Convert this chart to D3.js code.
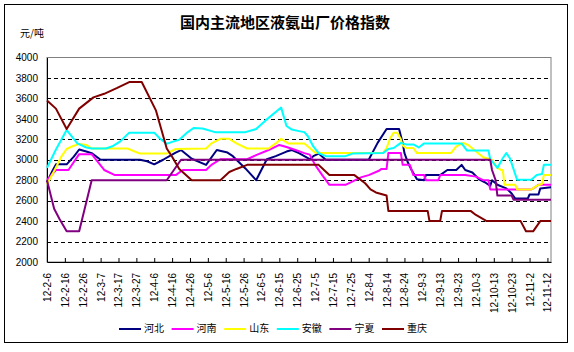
<!DOCTYPE html>
<html>
<head>
<meta charset="utf-8">
<script src="https://cdn.jsdelivr.net/npm/d3@7"></script>
<style>
  body { margin: 0; background: #fff; }
  svg text { font-family: "Liberation Sans", Arial, sans-serif; }
  .cjk { font-family: "Noto Sans CJK SC", sans-serif; }
</style>
</head>
<body>
<div id="chart"></div>
<script>
    // series values, [month-day of 2012, price]
    const hebei = [["02-06",2780],["02-09",2890],["02-11",2955],["02-17",2955],["02-21",3030],["02-24",3100],["02-28",3080],["03-02",3065],["03-07",3000],["03-29",3000],["04-02",2985],["04-06",2955],["04-11",3000],["04-15",3040],["04-18",3070],["04-21",3095],["04-27",3010],["05-05",2950],["05-11",3095],["05-17",3070],["05-20",3035],["05-27",2915],["06-02",2800],["06-08",3005],["06-13",3035],["06-19",3080],["06-22",3095],["06-26",3065],["06-29",3035],["07-02",3005],["07-04",3035],["07-07",3060],["07-11",3000],["08-04",3000],["08-09",3165],["08-14",3300],["08-21",3300],["08-23",3165],["08-24",3065],["08-26",2970],["08-28",2900],["08-31",2810],["09-04",2800],["09-05",2850],["09-13",2850],["09-17",2900],["09-22",2900],["09-25",2950],["09-27",2900],["10-01",2875],["10-05",2805],["10-08",2780],["10-11",2745],["10-12",2800],["10-15",2755],["10-20",2720],["10-23",2670],["10-25",2620],["11-01",2620],["11-02",2660],["11-07",2660],["11-08",2720],["11-14",2730]];
    const henan = [["02-06",2800],["02-11",2900],["02-18",2900],["02-24",3055],["03-02",3055],["03-09",2900],["03-15",2850],["04-18",2850],["04-22",2900],["05-05",2900],["05-08",2950],["05-13",3005],["05-28",3005],["06-02",3045],["06-09",3095],["06-15",3145],["06-19",3125],["06-24",3095],["06-29",3065],["07-02",3050],["07-05",2950],["07-09",2850],["07-13",2755],["07-22",2755],["07-31",2830],["08-04",2850],["08-10",2895],["08-11",2910],["08-14",2910],["08-15",3065],["08-22",3065],["08-23",2950],["08-27",2950],["08-29",2850],["09-04",2850],["09-05",2800],["09-12",2800],["09-13",2850],["09-27",2850],["10-03",2835],["10-07",2800],["10-10",2800],["10-11",2710],["11-03",2710],["11-05",2730],["11-07",2755],["11-14",2755]];
    const shandong = [["02-06",2760],["02-10",2890],["02-14",3030],["02-17",3105],["02-20",3130],["02-24",3155],["02-28",3145],["03-02",3110],["03-22",3110],["03-29",3060],["04-13",3060],["04-18",3105],["05-05",3110],["05-08",3160],["05-13",3205],["05-18",3205],["05-22",3160],["05-28",3110],["06-09",3110],["06-13",3160],["06-16",3205],["06-20",3160],["06-29",3160],["07-02",3115],["07-05",3070],["07-08",3065],["08-12",3065],["08-14",3115],["08-16",3210],["08-18",3265],["08-20",3265],["08-22",3200],["08-23",3140],["08-25",3115],["08-29",3115],["08-31",3065],["09-19",3065],["09-22",3130],["09-26",3165],["09-29",3140],["10-07",3025],["10-12",3000],["10-15",2920],["10-17",2900],["10-18",2900],["10-19",2755],["10-25",2755],["10-26",2710],["11-03",2710],["11-06",2745],["11-09",2765],["11-10",2850],["11-14",2850]];
    const anhui = [["02-06",2920],["02-11",3100],["02-17",3290],["02-23",3160],["02-28",3120],["03-02",3110],["03-10",3110],["03-14",3135],["03-18",3180],["03-23",3265],["04-06",3265],["04-09",3210],["04-13",3155],["04-16",3175],["04-20",3195],["04-24",3260],["04-28",3310],["05-03",3305],["05-10",3270],["05-27",3270],["06-02",3300],["06-07",3380],["06-16",3510],["06-19",3330],["06-22",3295],["06-26",3280],["06-29",3270],["07-01",3230],["07-04",3130],["07-07",3065],["07-11",3035],["07-22",3035],["07-26",3060],["08-12",3065],["08-15",3105],["08-18",3115],["08-22",3165],["08-25",3150],["08-29",3150],["09-01",3120],["09-04",3160],["09-25",3160],["09-28",3090],["10-10",3090],["10-11",3005],["10-15",2920],["10-18",3015],["10-20",3065],["10-22",3015],["10-26",2805],["11-03",2805],["11-06",2850],["11-09",2860],["11-10",2950],["11-14",2950]];
    const ningxia = [["02-06",2800],["02-10",2520],["02-13",2420],["02-17",2300],["02-24",2300],["03-02",2800],["04-13",2800],["04-21",3000],["10-11",3000],["10-12",2900],["10-14",2800],["10-15",2650],["10-23",2650],["10-24",2610],["11-14",2610]];
    const chongqing = [["02-06",3580],["02-11",3500],["02-17",3300],["02-24",3500],["03-03",3610],["03-09",3645],["03-16",3700],["03-23",3760],["03-30",3760],["04-07",3480],["04-13",3110],["04-16",3030],["04-20",2910],["04-27",2800],["05-13",2800],["05-18",2880],["05-22",2910],["05-28",2950],["07-07",2950],["07-10",2900],["07-13",2850],["07-27",2850],["08-02",2770],["08-05",2710],["08-08",2680],["08-14",2650],["08-15",2500],["09-06",2500],["09-07",2400],["09-13",2400],["09-14",2500],["09-30",2500],["10-03",2460],["10-09",2400],["10-28",2400],["10-31",2300],["11-04",2300],["11-08",2400],["11-14",2400]];

    const seriesNames = ["河北", "河南", "山东", "安徽", "宁夏", "重庆"];
    const seriesColors = ["#000080", "#ff00ff", "#ffff00", "#00ffff", "#800080", "#800000"];
    const seriesData = [hebei, henan, shandong, anhui, ningxia, chongqing];

    const yTicks = [2000, 2200, 2400, 2600, 2800, 3000, 3200, 3400, 3600, 3800, 4000];
    const firstDay = "02-06", lastDay = "11-14";
    const tickCount = 29;   // a label every 10 days, 12-2-6 ... 12-11-12

    const width = 574;
    const height = 352;
    const plot = { left: 47, right: 551, top: 57.5, bottom: 262 };

    const parse = d3.timeParse("%Y-%m-%d");
    const toDate = s => parse("2012-" + s);

    const x = d3.scaleTime()
        .domain([toDate(firstDay), toDate(lastDay)])
        .range([plot.left, plot.right]);

    const y = d3.scaleLinear()
        .domain([2000, 4000])
        .range([plot.bottom, plot.top]);

    const tickDates = d3.range(tickCount).map(i => d3.timeDay.offset(toDate(firstDay), i * 10));
    const fmt = d => "12-" + (d.getMonth() + 1) + "-" + d.getDate();

    const svg = d3.select("#chart").append("svg")
        .attr("width", width)
        .attr("height", height);

    svg.append("rect")
        .attr("width", width).attr("height", height)
        .attr("fill", "#fff");

    // outer frame
    svg.append("rect")
        .attr("x", 4.5).attr("y", 4.5)
        .attr("width", 563).attr("height", 338)
        .attr("fill", "none")
        .attr("stroke", "#000")
        .attr("stroke-width", 1);

    // title + unit
    svg.append("text")
        .attr("class", "cjk")
        .attr("x", 285).attr("y", 24)
        .attr("text-anchor", "middle")
        .attr("dominant-baseline", "middle")
        .attr("font-size", 15)
        .attr("font-weight", "bold")
        .text("国内主流地区液氨出厂价格指数");

    svg.append("text")
        .attr("class", "cjk")
        .attr("x", 20).attr("y", 34)
        .attr("dominant-baseline", "middle")
        .attr("font-size", 10)
        .text("元/吨");

    // plot area border (top and right in grey)
    svg.append("rect")
        .attr("x", plot.left).attr("y", plot.top)
        .attr("width", plot.right - plot.left)
        .attr("height", plot.bottom - plot.top)
        .attr("fill", "#fff")
        .attr("stroke", "#808080")
        .attr("stroke-width", 1);

    // dashed grid
    svg.append("g")
        .selectAll("line")
        .data(yTicks.filter(v => v > 2000 && v < 4000))
        .join("line")
        .attr("x1", plot.left).attr("x2", plot.right)
        .attr("y1", d => Math.round(y(d)) + 0.5)
        .attr("y2", d => Math.round(y(d)) + 0.5)
        .attr("stroke", "#000")
        .attr("stroke-dasharray", "4,3")
        .attr("stroke-width", 1);

    // y axis
    const yAxis = svg.append("g")
        .attr("transform", `translate(${plot.left},0)`)
        .call(d3.axisLeft(y).tickValues(yTicks).tickSize(0).tickPadding(9).tickFormat(d3.format("d")));
    yAxis.select(".domain").attr("stroke", "#000");
    yAxis.selectAll("text").attr("font-size", 10).attr("fill", "#000")
        .style("font-family", "'Liberation Sans', Arial, sans-serif");

    // x axis, ticks pointing inside
    const xAxis = svg.append("g")
        .attr("transform", `translate(0,${plot.bottom})`)
        .call(d3.axisBottom(x).tickValues(tickDates).tickSizeInner(-4).tickSizeOuter(0).tickFormat(fmt));
    xAxis.select(".domain").attr("stroke", "#000");
    xAxis.selectAll(".tick line").attr("stroke", "#000");
    xAxis.selectAll("text")
        .attr("font-size", 10)
        .attr("fill", "#000")
        .style("font-family", "'Liberation Sans', Arial, sans-serif")
        .attr("text-anchor", "end")
        .attr("transform", "translate(0,11) rotate(-90)")
        .attr("x", 0).attr("y", 0)
        .attr("dy", "0.35em");

    // series
    const line = d3.line()
        .x(d => x(toDate(d[0])))
        .y(d => y(d[1]));

    svg.append("g")
        .selectAll("path")
        .data(seriesData)
        .join("path")
        .attr("d", line)
        .attr("fill", "none")
        .attr("stroke", (d, i) => seriesColors[i])
        .attr("stroke-width", 2)
        .attr("stroke-linejoin", "round");

    // legend
    const legend = svg.append("g")
        .selectAll("g")
        .data(seriesNames)
        .join("g")
        .attr("transform", (d, i) => `translate(${119 + i * 52.6},329)`);

    legend.append("line")
        .attr("x1", 0).attr("x2", 22)
        .attr("stroke", (d, i) => seriesColors[i])
        .attr("stroke-width", 2);

    legend.append("text")
        .attr("class", "cjk")
        .attr("x", 25)
        .attr("dominant-baseline", "middle")
        .attr("font-size", 10)
        .text(d => d);
</script>
</body>
</html>
